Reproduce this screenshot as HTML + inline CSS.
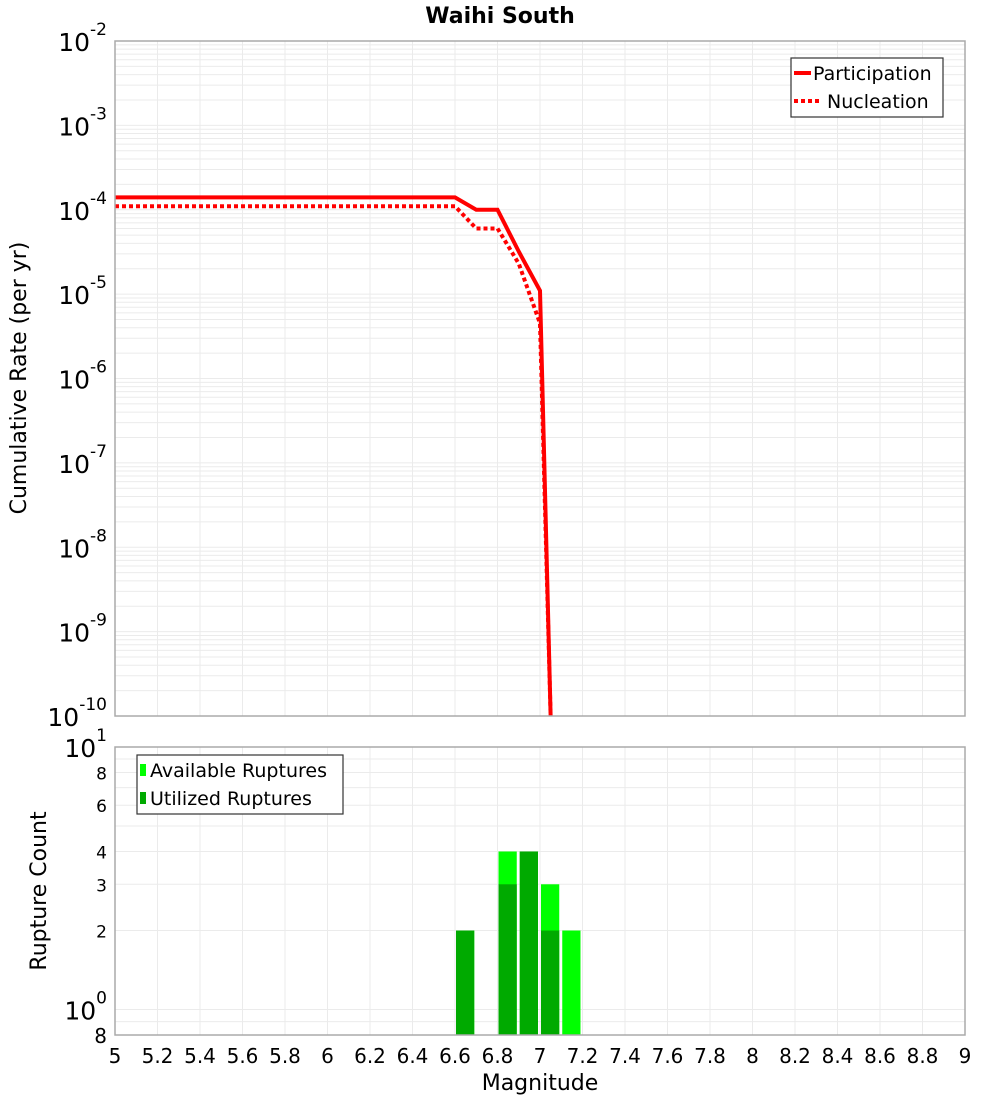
<!DOCTYPE html>
<html><head><meta charset="utf-8"><style>
body{margin:0;background:#fff;font-family:"DejaVu Sans","Liberation Sans",sans-serif}
</style></head><body>
<svg id="c" width="1000" height="1100" xmlns="http://www.w3.org/2000/svg" font-family="DejaVu Sans, Liberation Sans, sans-serif">
<text x="500" y="23" text-anchor="middle" font-size="22" font-weight="bold">Waihi South</text>
<g id="topg"></g>
<g id="botg"></g>
<text transform="translate(26,378) rotate(-90)" text-anchor="middle" font-size="22">Cumulative Rate (per yr)</text>
<text transform="translate(46,891) rotate(-90)" text-anchor="middle" font-size="22">Rupture Count</text>
<text x="540" y="1090" text-anchor="middle" font-size="22">Magnitude</text>
</svg>
<script>
const partMags=[5,6.6,6.7,6.8,6.9,7.0,7.05];
const partRates=[1.4e-4,1.4e-4,1.0e-4,1.0e-4,3.2e-5,1.1e-5,1e-10];
const nuclMags=[5,6.6,6.7,6.8,6.9,7.0,7.05];
const nuclRates=[1.1e-4,1.1e-4,6e-5,6e-5,2.3e-5,4.5e-6,1e-10];
const binStarts=[6.6,6.8,6.9,7.0,7.1];
const availCounts=[2,4,4,3,2];
const usedCounts=[2,3,4,2,0];
const xTicks=[5,5.2,5.4,5.6,5.8,6,6.2,6.4,6.6,6.8,7,7.2,7.4,7.6,7.8,8,8.2,8.4,8.6,8.8,9];
const topDecades=[-2,-3,-4,-5,-6,-7,-8,-9,-10];
const botTicks=[8,6,4,3,2];

const NS='http://www.w3.org/2000/svg';
const L=115,R=965,T1=41,B1=716,T2=747,B2=1035;
const X=m=>L+(m-5)/4*(R-L);
const Y1=v=>T1+(-2-Math.log10(v))/8*(B1-T1);
const lmin=Math.log10(0.8);
const Y2=v=>T2+(1-Math.log10(v))/(1-lmin)*(B2-T2);
function mk(p,tag,a){const e=document.createElementNS(NS,tag);for(const k in a)e.setAttribute(k,a[k]);p.appendChild(e);return e;}
const gTop=document.getElementById('topg'),gBot=document.getElementById('botg');
for(let e=-10;e<-2;e++)for(let k=1;k<10;k++){const y=Y1(k*Math.pow(10,e));
 const g=mk(gTop,'line',{x1:L,x2:R,y1:y,y2:y,stroke:'#ebebeb','stroke-width':1});
 
 }
[0.8,0.9,1,2,3,4,5,6,7,8,9].forEach(v=>{const y=Y2(v);
 const g=mk(gBot,'line',{x1:L,x2:R,y1:y,y2:y,stroke:'#ebebeb','stroke-width':1});
 
 });
xTicks.forEach(m=>{[[gTop,T1,B1],[gBot,T2,B2]].forEach(([p,a,b])=>{
 const g=mk(p,'line',{x1:X(m),x2:X(m),y1:a,y2:b,stroke:'#ebebeb','stroke-width':1});
 
 });
 const t=mk(gBot,'text',{x:X(m),y:B2+28,'text-anchor':'middle','font-size':20});t.textContent=m;
 
 });
topDecades.forEach(e=>{const y=Y1(Math.pow(10,e));
 const t=mk(gTop,'text',{x:107,y:y+10,'text-anchor':'end','font-size':25});
 
 
 const a=mk(t,'tspan',{});a.textContent='10';
 const s=mk(t,'tspan',{dy:-16,'font-size':17});s.textContent=e;});
binStarts.forEach((b,i)=>{const x=X(b)+1,w=X(b+0.1)-X(b)-3;
 if(availCounts[i]>0){const r=mk(gBot,'rect',{x:x,y:Y2(availCounts[i]),width:w,height:B2-Y2(availCounts[i]),fill:'#00ff00'});
 
 }
 if(usedCounts[i]>0){const r=mk(gBot,'rect',{x:x,y:Y2(usedCounts[i]),width:w,height:B2-Y2(usedCounts[i]),fill:'#00aa00'});
 
 }});
const cp=mk(gTop,'clipPath',{id:'cl'});mk(cp,'rect',{x:L,y:T1,width:R-L,height:B1-T1});
function line(ms,vs,dash,name){const p=mk(gTop,'polyline',{points:ms.map((m,i)=>X(m)+','+Y1(vs[i])).join(' '),fill:'none',stroke:'#ff0000','stroke-width':4,'clip-path':'url(#cl)'});
 if(dash)p.setAttribute('stroke-dasharray','4 3');
 
 }
line(nuclMags,nuclRates,true,'nucleation-line');
line(partMags,partRates,false,'participation-line');
let f=mk(gTop,'rect',{x:L,y:T1,width:R-L,height:B1-T1,fill:'none',stroke:'#aaa','stroke-width':1.5});

f=mk(gBot,'rect',{x:L,y:T2,width:R-L,height:B2-T2,fill:'none',stroke:'#aaa','stroke-width':1.5});

botTicks.forEach(v=>{const t=mk(gBot,'text',{x:107,y:Y2(v)+7,'text-anchor':'end','font-size':17});t.textContent=v;
 
 });
[[10,'1',Y2(10)],[1,'0',Y2(1)]].forEach(([v,e,y])=>{const t=mk(gBot,'text',{x:107,y:y+10,'text-anchor':'end','font-size':25});
 
 
 const a=mk(t,'tspan',{});a.textContent='10';const s=mk(t,'tspan',{dy:-16,'font-size':17});s.textContent=e;});
let t8=mk(gBot,'text',{x:107,y:B2+8,'text-anchor':'end','font-size':20});t8.textContent='8';

const lg=mk(gTop,'g',{});


mk(lg,'rect',{x:791,y:58,width:152,height:59,fill:'#fff',stroke:'#333','stroke-width':1.2});
mk(lg,'line',{x1:794,x2:811,y1:73,y2:73,stroke:'#f00','stroke-width':4});
mk(lg,'line',{x1:794,x2:822,y1:101,y2:101,stroke:'#f00','stroke-width':4,'stroke-dasharray':'4 3'});
let a=mk(lg,'text',{x:813,y:80,'font-size':19});a.textContent='Participation';
a=mk(lg,'text',{x:827,y:108,'font-size':19});a.textContent='Nucleation';
const lb=mk(gBot,'g',{});


mk(lb,'rect',{x:137,y:755,width:206,height:59,fill:'#fff',stroke:'#333','stroke-width':1.2});
mk(lb,'rect',{x:140,y:764,width:6,height:12,fill:'#00ff00'});
mk(lb,'rect',{x:140,y:792,width:6,height:12,fill:'#00aa00'});
a=mk(lb,'text',{x:150,y:777,'font-size':19});a.textContent='Available Ruptures';
a=mk(lb,'text',{x:150,y:805,'font-size':19});a.textContent='Utilized Ruptures';
</script>
</body></html>
